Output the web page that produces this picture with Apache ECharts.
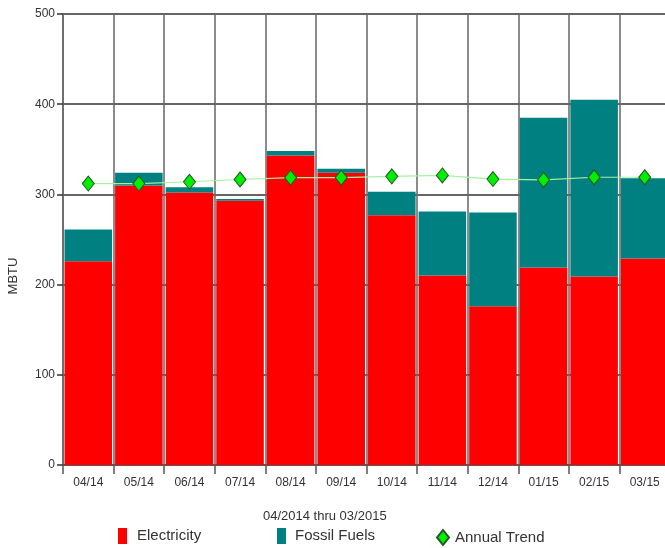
<!DOCTYPE html>
<html>
<head>
<meta charset="utf-8">
<script src="https://cdn.jsdelivr.net/npm/echarts@6/dist/echarts.min.js"></script>
<style>html,body{margin:0;padding:0;background:#fff;overflow:hidden}#c{width:672px;height:548px}</style>
</head>
<body>
<div id="c"></div>
<script>
var categories = ['04/14','05/14','06/14','07/14','08/14','09/14','10/14','11/14','12/14','01/15','02/15','03/15'];
var electricity = [226, 310, 302, 293, 343, 324, 277, 210, 176, 219, 209, 229];
var fossilFuels = [35, 14, 6, 2, 5, 4.5, 26, 71, 104, 166, 196, 89];
var annualTrend = [312, 312, 314, 316.5, 318.5, 318.5, 320, 321, 317, 316, 319, 319];
var yTicks = {min: 0, max: 500, interval: 100};

var FONT = '"Liberation Sans", Arial, sans-serif';
var chart = echarts.init(document.getElementById('c'), null, {renderer: 'canvas'});
chart.setOption({
  animation: false,
  textStyle: {fontFamily: FONT},
  grid: {left: 63, right: 2, top: 14, bottom: 83},
  xAxis: {
    type: 'category',
    data: categories,
    boundaryGap: true,
    axisLine: {lineStyle: {color: '#555', width: 1.5}},
    axisTick: {show: true, length: 9, alignWithLabel: false, lineStyle: {color: '#555', width: 1.5}},
    axisLabel: {color: '#333', fontSize: 12, margin: 12, fontFamily: FONT},
    splitLine: {show: true, interval: 0, lineStyle: {color: '#666', width: 1.5}}
  },
  yAxis: {
    type: 'value',
    min: yTicks.min, max: yTicks.max, interval: yTicks.interval,
    axisLine: {show: true, lineStyle: {color: '#666', width: 1.5}},
    axisTick: {show: true, length: 6, lineStyle: {color: '#333', width: 1.5}},
    axisLabel: {color: '#333', fontSize: 12, margin: 8, fontFamily: FONT},
    splitLine: {show: true, lineStyle: {color: '#333', width: 1.5}}
  },
  legend: [
    {left: 118, top: 528, padding: 0, itemWidth: 9, itemHeight: 16, itemGap: 0,
     textStyle: {fontSize: 15, color: '#333', fontFamily: FONT, padding: [0,0,0,5]},
     data: [{name: 'Electricity', icon: 'rect'}]},
    {left: 277, top: 528, padding: 0, itemWidth: 9, itemHeight: 16, itemGap: 0,
     textStyle: {fontSize: 15, color: '#333', fontFamily: FONT, padding: [0,0,0,4]},
     data: [{name: 'Fossil Fuels', icon: 'rect'}]},
    {left: 436, top: 529, padding: 0, itemWidth: 12, itemHeight: 15, itemGap: 0,
     textStyle: {fontSize: 15, color: '#333', fontFamily: FONT, padding: [0,0,0,1]},
     data: [{name: 'Annual Trend', icon: 'diamond'}]}
  ],
  graphic: [
    {type: 'text', left: 263, top: 510, style: {text: '04/2014 thru 03/2015', fontSize: 13, fill: '#333', fontFamily: FONT}},
    {type: 'text', x: 13, y: 276, rotation: Math.PI / 2, style: {text: 'MBTU', fontSize: 13, fill: '#333', fontFamily: FONT, align: 'center', verticalAlign: 'middle'}}
  ],
  series: [
    {name: 'Electricity', type: 'bar', stack: 'total', data: electricity, barCategoryGap: '6%',
     itemStyle: {color: '#ff0000'}},
    {name: 'Fossil Fuels', type: 'bar', stack: 'total', data: fossilFuels, barCategoryGap: '6%',
     itemStyle: {color: '#008080'}},
    {name: 'Annual Trend', type: 'line', data: annualTrend, symbol: 'diamond', symbolSize: [12, 15],
     lineStyle: {color: '#a6f0a6', width: 1.2},
     itemStyle: {color: '#00ee00', borderColor: '#225522', borderWidth: 1}, z: 5}
  ]
});
</script>
</body>
</html>
